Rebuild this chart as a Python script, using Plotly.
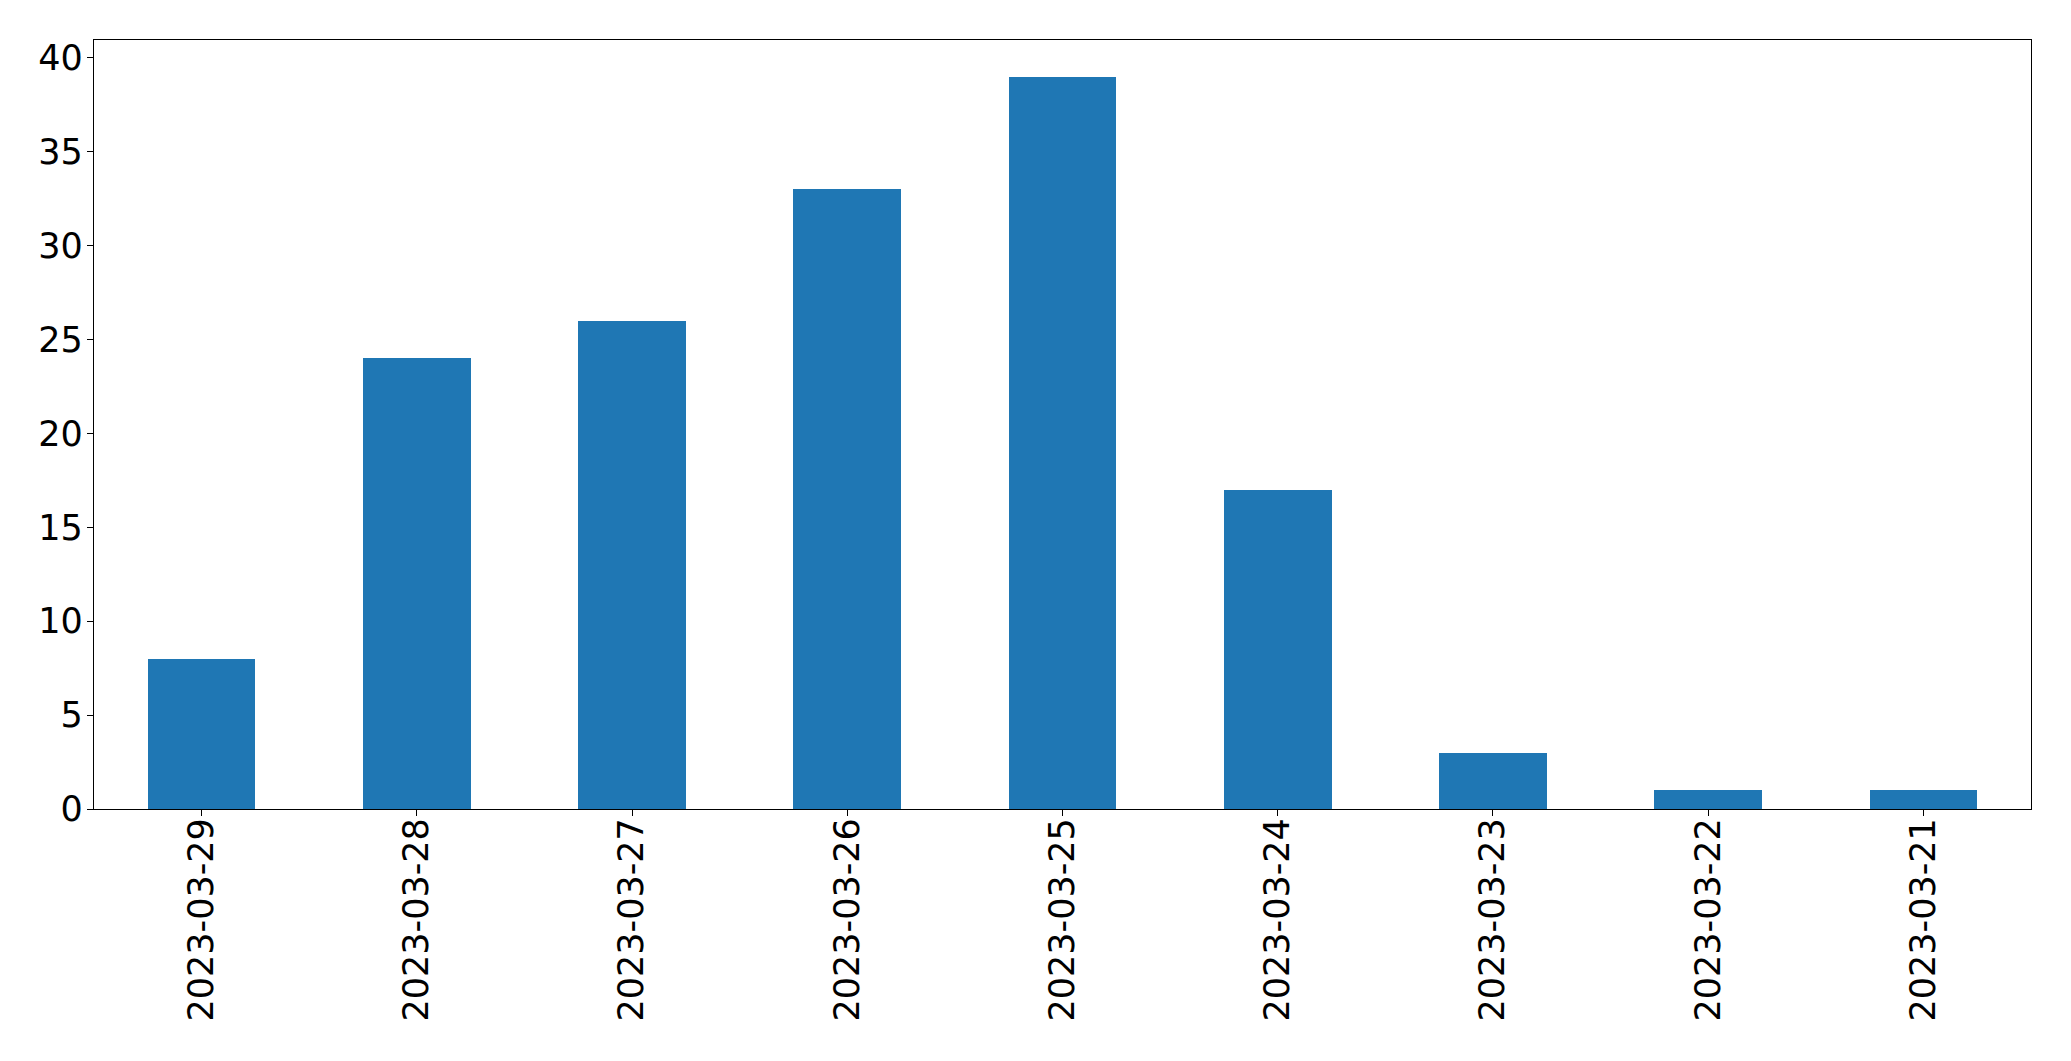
import plotly.graph_objects as go

dates = ["2023-03-29", "2023-03-28", "2023-03-27", "2023-03-26", "2023-03-25",
         "2023-03-24", "2023-03-23", "2023-03-22", "2023-03-21"]
counts = [8, 24, 26, 33, 39, 17, 3, 1, 1]
y_ticks = [0, 5, 10, 15, 20, 25, 30, 35, 40]

fig = go.Figure(go.Bar(x=dates, y=counts, width=0.5, marker=dict(color="#1f77b4", line=dict(width=0))))

font = dict(family="DejaVu Sans", size=35, color="black")
fig.update_layout(
    width=2055, height=1045,
    margin=dict(l=86, r=32, t=32, b=244, pad=0),
    plot_bgcolor="white", paper_bgcolor="white",
    showlegend=False, bargap=0,
)
fig.update_xaxes(
    type="category", range=[-0.5, 8.5], tickangle=-90,
    showline=True, linecolor="black", linewidth=1.3, mirror=True,
    ticks="outside", ticklen=6, tickwidth=1.3, tickcolor="black",
    showgrid=False, zeroline=False, tickfont=font, ticklabelstandoff=-12,
)
fig.update_yaxes(
    range=[0, 40.95], tickvals=y_ticks,
    showline=True, linecolor="black", linewidth=1.3, mirror=True,
    ticks="outside", ticklen=6, tickwidth=1.3, tickcolor="black",
    showgrid=False, zeroline=False, tickfont=font, ticklabelstandoff=-3,
)
fig.write_html("out.html")
